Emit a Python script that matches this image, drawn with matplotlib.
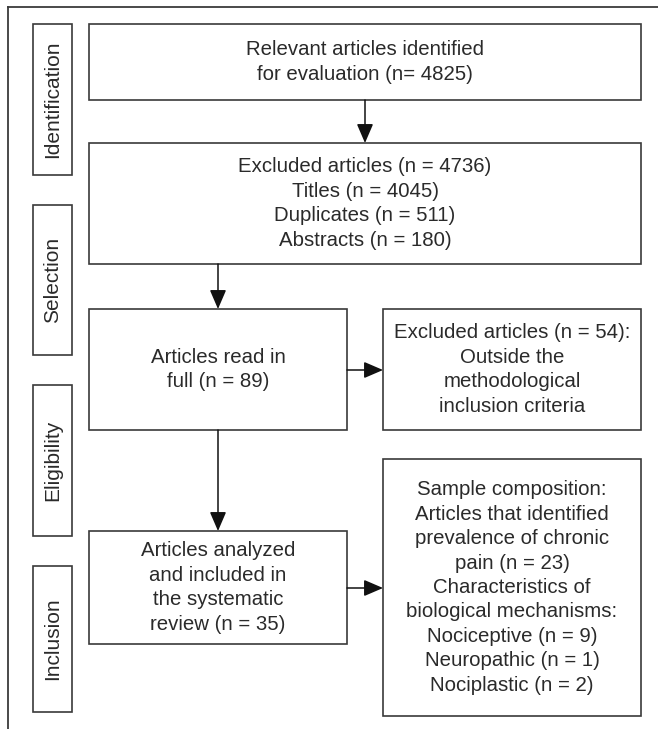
import matplotlib.pyplot as plt
from matplotlib.patches import Rectangle, FancyArrowPatch

plt.rcParams['font.family'] = ['Liberation Sans', 'DejaVu Sans']

# stage labels on the left
stages = ["Identification", "Selection", "Eligibility", "Inclusion"]
stage_y = [(24, 175), (205, 355), (385, 536), (566, 712)]

# flow boxes: text, (x0, y0, x1, y1) in pixel units
box_texts = [
    "Relevant articles identified\nfor evaluation (n= 4825)",
    "Excluded articles (n = 4736)\nTitles (n = 4045)\nDuplicates (n = 511)\nAbstracts (n = 180)",
    "Articles read in\nfull (n = 89)",
    "Excluded articles (n = 54):\nOutside the\nmethodological\ninclusion criteria",
    "Articles analyzed\nand included in\nthe systematic\nreview (n = 35)",
    "Sample composition:\nArticles that identified\nprevalence of chronic\npain (n = 23)\nCharacteristics of\nbiological mechanisms:\nNociceptive (n = 9)\nNeuropathic (n = 1)\nNociplastic (n = 2)",
]
box_pos = [
    (89, 24, 641, 100),
    (89, 143, 641, 264),
    (89, 309, 347, 430),
    (383, 309, 641, 430),
    (89, 531, 347, 644),
    (383, 459, 641, 716),
]
# arrows: start -> end
arrows = [
    ((365, 100), (365, 143)),
    ((218, 264), (218, 309)),
    ((218, 430), (218, 531)),
    ((347, 370), (383, 370)),
    ((347, 588), (383, 588)),
]

W, H = 658, 729
fig = plt.figure(figsize=(W / 100, H / 100), dpi=100)
ax = fig.add_axes([0, 0, 1, 1])
ax.set_xlim(0, W)
ax.set_ylim(H, 0)
ax.axis('off')

ec = '#3a3a3a'
tc = '#2a2a2a'

# outer frame (top and left)
ax.plot([8, W], [7, 7], color=ec, lw=1.3)
ax.plot([8, 8], [7, H], color=ec, lw=1.3)

for label, (y0, y1) in zip(stages, stage_y):
    ax.add_patch(Rectangle((33, y0), 39, y1 - y0, fill=False, ec=ec, lw=1.2))
    ax.text(53, (y0 + y1) / 2, label, rotation=90, ha='center', va='center',
            fontsize=15, color=tc)

for txt, (x0, y0, x1, y1) in zip(box_texts, box_pos):
    ax.add_patch(Rectangle((x0, y0), x1 - x0, y1 - y0, fill=False, ec=ec, lw=1.2))
    ax.text((x0 + x1) / 2, (y0 + y1) / 2, txt, ha='center', va='center',
            fontsize=14.7, color=tc, linespacing=1.36)

for (p0, p1) in arrows:
    ax.add_patch(FancyArrowPatch(p0, p1, arrowstyle='-|>,head_length=0.65,head_width=0.28',
                                 mutation_scale=18, color='#111111', lw=1.1,
                                 shrinkA=0, shrinkB=0))

fig.savefig('out.png', dpi=100)
